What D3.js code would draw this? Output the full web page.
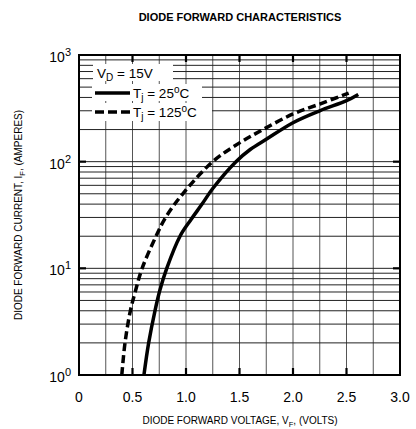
<!DOCTYPE html>
<html>
<head>
<meta charset="utf-8">
<script src="https://cdnjs.cloudflare.com/ajax/libs/d3/7.8.5/d3.min.js"></script>
<style>
  body { margin: 0; background: #fff; }
  svg { font-family: "Liberation Sans", Arial, Helvetica, sans-serif; }
</style>
</head>
<body>
<div id="chart"></div>
<script>
// data
var vfSolid = [0.607, 0.651, 0.71, 0.757, 0.82, 0.944, 1.044, 1.15, 1.25, 1.467, 1.60, 1.75, 2.00, 2.25, 2.50, 2.61];
var ifSolid = [1, 2, 4, 6.3, 10, 20, 28.4, 40, 56, 100, 130, 162, 232, 300, 373, 427];
var vfDashed = [0.40, 0.43, 0.48, 0.525, 0.59, 0.72, 0.81, 0.97, 1.25, 1.50, 1.72, 2.00, 2.25, 2.52];
var ifDashed = [1, 2, 4, 6, 10, 20, 30, 50, 100, 150, 200, 280, 347, 440];
var xTicks = [0, 0.5, 1.0, 1.5, 2.0, 2.5, 3.0];
var xTickLabels = ["0", "0.5", "1.0", "1.5", "2.0", "2.5", "3.0"];
var yDecades = [1, 10, 100, 1000];
var yExponents = ["0", "1", "2", "3"];

// set the dimensions and margins of the graph
var margin = {top: 55, right: 16, bottom: 54, left: 79},
    width = 416 - margin.left - margin.right,
    height = 429 - margin.top - margin.bottom;

var root = d3.select("#chart")
  .append("svg")
  .attr("width", 416)
  .attr("height", 429);

var svg = root.append("g")
  .attr("transform", "translate(" + margin.left + "," + margin.top + ")");

var x = d3.scaleLinear().domain([0, 3]).range([0, width]);
var y = d3.scaleLog().domain([1, 1000]).range([height, 0]);

// grid: every 0.25 V, and 1..9 per decade
var xGrid = d3.range(0.25, 3, 0.25);
var yGrid = [];
[1, 10, 100].forEach(function(d) {
  for (var k = 2; k <= 10; k++) yGrid.push(d * k);
});
yGrid = yGrid.filter(function(v) { return v < 1000; });

svg.append("g")
  .selectAll("line")
  .data(xGrid)
  .enter()
  .append("line")
  .attr("x1", d => x(d)).attr("x2", d => x(d))
  .attr("y1", 0).attr("y2", height)
  .attr("stroke", "#555")
  .attr("stroke-width", 1);

svg.append("g")
  .selectAll("line")
  .data(yGrid)
  .enter()
  .append("line")
  .attr("x1", 0).attr("x2", width)
  .attr("y1", d => y(d)).attr("y2", d => y(d))
  .attr("stroke", "#222")
  .attr("stroke-width", 1);

// major tick marks on all four sides
var tickLen = 7;
var ticks = svg.append("g").attr("stroke", "#000").attr("stroke-width", 2.2);
xTicks.slice(1, -1).forEach(function(d) {
  ticks.append("line").attr("x1", x(d)).attr("x2", x(d)).attr("y1", height).attr("y2", height - tickLen);
  ticks.append("line").attr("x1", x(d)).attr("x2", x(d)).attr("y1", 0).attr("y2", tickLen);
});
yDecades.slice(1, -1).forEach(function(d) {
  ticks.append("line").attr("x1", 0).attr("x2", tickLen).attr("y1", y(d)).attr("y2", y(d));
  ticks.append("line").attr("x1", width).attr("x2", width - tickLen).attr("y1", y(d)).attr("y2", y(d));
});

// legend rows with white backing
var legend = svg.append("g");
legend.append("rect").attr("x", 14).attr("y", 9).attr("width", 80).attr("height", 17).attr("fill", "#fff");
legend.append("rect").attr("x", 13).attr("y", 29).attr("width", 110).attr("height", 17).attr("fill", "#fff");
legend.append("rect").attr("x", 13).attr("y", 48).attr("width", 120).attr("height", 18).attr("fill", "#fff");

var lt = legend.append("text").attr("x", 18).attr("y", 23).attr("font-size", 13.5);
lt.append("tspan").text("V");
lt.append("tspan").attr("font-size", 10).attr("dy", 3).text("D");
lt.append("tspan").attr("dy", -3).text(" = 15V");

legend.append("line").attr("x1", 16).attr("x2", 51).attr("y1", 38).attr("y2", 38)
  .attr("stroke", "#000").attr("stroke-width", 3.5);
var t1 = legend.append("text").attr("x", 54).attr("y", 43).attr("font-size", 13.5);
t1.append("tspan").text("T");
t1.append("tspan").attr("font-size", 10).attr("dy", 3).text("j");
t1.append("tspan").attr("dy", -3).text(" = 25");
t1.append("tspan").attr("font-size", 10).attr("dy", -5).text("o");
t1.append("tspan").attr("dy", 5).text("C");

legend.append("line").attr("x1", 16).attr("x2", 51).attr("y1", 57).attr("y2", 57)
  .attr("stroke", "#000").attr("stroke-width", 3.5).attr("stroke-dasharray", "9,4");
var t2 = legend.append("text").attr("x", 54).attr("y", 62).attr("font-size", 13.5);
t2.append("tspan").text("T");
t2.append("tspan").attr("font-size", 10).attr("dy", 3).text("j");
t2.append("tspan").attr("dy", -3).text(" = 125");
t2.append("tspan").attr("font-size", 10).attr("dy", -5).text("o");
t2.append("tspan").attr("dy", 5).text("C");

// curves
var line = d3.line()
  .x(d => x(d[0]))
  .y(d => y(d[1]))
  .curve(d3.curveCatmullRom.alpha(0.5));

svg.append("path")
  .datum(d3.zip(vfSolid, ifSolid))
  .attr("d", line)
  .attr("fill", "none")
  .attr("stroke", "#000")
  .attr("stroke-width", 3.5);

svg.append("path")
  .datum(d3.zip(vfDashed, ifDashed))
  .attr("d", line)
  .attr("fill", "none")
  .attr("stroke", "#000")
  .attr("stroke-width", 3.5)
  .attr("stroke-dasharray", "8,4");

// frame
svg.append("rect")
  .attr("width", width).attr("height", height)
  .attr("fill", "none").attr("stroke", "#000").attr("stroke-width", 2);

// x tick labels
svg.append("g")
  .selectAll("text")
  .data(xTicks)
  .enter()
  .append("text")
  .attr("x", d => x(d))
  .attr("y", height + 27)
  .attr("text-anchor", "middle")
  .attr("font-size", 14)
  .text((d, i) => xTickLabels[i]);

// y tick labels 10^n
yDecades.forEach(function(d, i) {
  var t = svg.append("text")
    .attr("x", -8)
    .attr("y", y(d) + 7)
    .attr("text-anchor", "end")
    .attr("font-size", 14);
  t.append("tspan").text("10");
  t.append("tspan").attr("font-size", 11).attr("dy", -6).text(yExponents[i]);
});

// titles
root.append("text")
  .attr("x", 240).attr("y", 21)
  .attr("text-anchor", "middle")
  .attr("font-size", 11)
  .attr("font-weight", "bold")
  .text("DIODE FORWARD CHARACTERISTICS");

var xt = root.append("text")
  .attr("x", 240).attr("y", 424)
  .attr("text-anchor", "middle")
  .attr("font-size", 10);
xt.append("tspan").text("DIODE FORWARD VOLTAGE, V");
xt.append("tspan").attr("font-size", 7.5).attr("dy", 2.5).text("F");
xt.append("tspan").attr("dy", -2.5).text(", (VOLTS)");

var yt = root.append("text")
  .attr("transform", "translate(22," + (margin.top + height / 2) + ") rotate(-90)")
  .attr("text-anchor", "middle")
  .attr("font-size", 10);
yt.append("tspan").text("DIODE FORWARD CURRENT, I");
yt.append("tspan").attr("font-size", 7.5).attr("dy", 2.5).text("F");
yt.append("tspan").attr("dy", -2.5).text(", (AMPERES)");
</script>
</body>
</html>
